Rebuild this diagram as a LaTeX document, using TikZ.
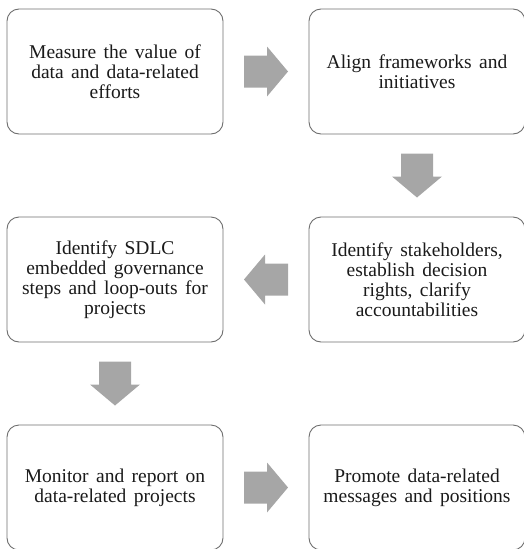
\documentclass[tikz,border=0pt]{standalone}
\usepackage{fontspec}
\setmainfont{Liberation Serif}
\usetikzlibrary{positioning,calc}
\definecolor{boxline}{HTML}{6E6E6E}
\definecolor{arrowgray}{HTML}{A6A6A6}
\definecolor{textgray}{HTML}{1A1A1A}
\newcommand{\stepfont}{\fontsize{19.5}{20}\selectfont\spaceskip=0.38em plus 0.1em\relax}
\tikzset{
    stepbox/.style={draw=boxline, line width=0.9pt, rounded corners=12pt,
        minimum width=216pt, minimum height=125pt, outer sep=0pt,
        align=center, text=textgray, font=\stepfont},
    pics/blockarr/.style={code={
        \fill[arrowgray] (-22,-16) -- (1,-16) -- (1,-25) -- (22,0)
            -- (1,25) -- (1,16) -- (-22,16) -- cycle;}}
}

\begin{document}
\begin{tikzpicture}[x=1pt,y=-1pt]
                        \useasboundingbox (0,0) rectangle (523,549);

                        \node[stepbox] (measure) at (115,71.5)
                            {Measure the value of\\data and data-related\\efforts};
                        \node[stepbox, right=86pt of measure] (align)
                            {Align frameworks and\\initiatives};
                        \node[stepbox, below=83pt of align] (stake)
                            {Identify stakeholders,\\establish decision\\rights, clarify\\accountabilities};
                        \node[stepbox, left=86pt of stake] (sdlc)
                            {Identify SDLC\\embedded governance\\steps and loop-outs for\\projects};
                        \node[stepbox, below=83pt of sdlc] (monitor)
                            {Monitor and report on\\data-related projects};
                        \node[stepbox, right=86pt of monitor] (promote)
                            {Promote data-related\\messages and positions};

                        \pic at ($(measure.east)!0.5!(align.west)$) {blockarr};
                        \pic[rotate=-90] at ($(align.south)!0.5!(stake.north)$) {blockarr};
                        \pic[rotate=180] at ($(stake.west)!0.5!(sdlc.east)$) {blockarr};
                        \pic[rotate=-90] at ($(sdlc.south)!0.5!(monitor.north)$) {blockarr};
                        \pic at ($(monitor.east)!0.5!(promote.west)$) {blockarr};
                    \end{tikzpicture}
\end{document}
